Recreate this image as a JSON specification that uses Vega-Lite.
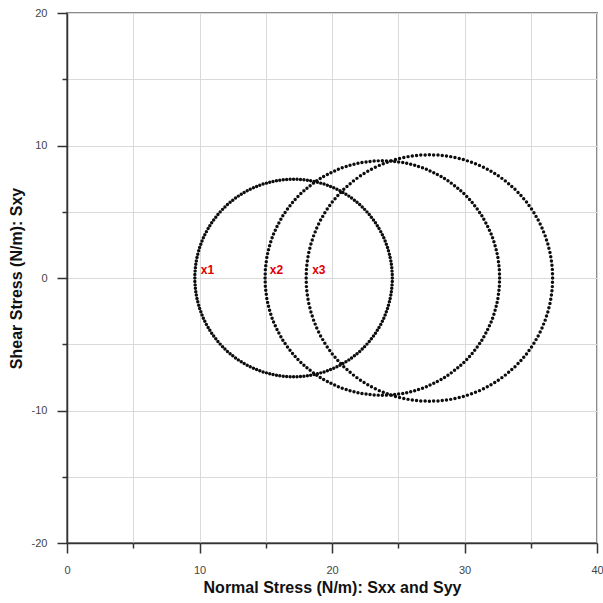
{
"$schema": "https://vega.github.io/schema/vega-lite/v6.json",
"width": 530,
"height": 530,
"autosize": "none",
"padding": {"left": 67, "top": 13, "right": 6, "bottom": 60},
"background": "white",
"config": {"view": {"stroke": "#8c8c8c", "strokeWidth": 2}, "font": "Liberation Sans"},
"datasets": {
"labels": [{"label":"x1","x":10.1,"y":0},{"label":"x2","x":15.3,"y":0},{"label":"x3","x":18.5,"y":0}],
"points": [
{"c":1,"x":24.55,"y":0},{"c":1,"x":24.55,"y":0.26},{"c":1,"x":24.53,"y":0.52},{"c":1,"x":24.51,"y":0.78},{"c":1,"x":24.48,"y":1.04},{"c":1,"x":24.44,"y":1.29},{"c":1,"x":24.39,"y":1.55},{"c":1,"x":24.33,"y":1.8},{"c":1,"x":24.26,"y":2.05},{"c":1,"x":24.19,"y":2.3},{"c":1,"x":24.1,"y":2.55},{"c":1,"x":24.01,"y":2.79},{"c":1,"x":23.91,"y":3.03},{"c":1,"x":23.8,"y":3.27},{"c":1,"x":23.68,"y":3.5},{"c":1,"x":23.55,"y":3.73},{"c":1,"x":23.42,"y":3.95},{"c":1,"x":23.28,"y":4.17},{"c":1,"x":23.13,"y":4.38},{"c":1,"x":22.97,"y":4.59},{"c":1,"x":22.81,"y":4.79},{"c":1,"x":22.64,"y":4.99},{"c":1,"x":22.46,"y":5.18},{"c":1,"x":22.28,"y":5.36},{"c":1,"x":22.09,"y":5.54},{"c":1,"x":21.89,"y":5.71},{"c":1,"x":21.69,"y":5.87},{"c":1,"x":21.48,"y":6.03},{"c":1,"x":21.27,"y":6.18},{"c":1,"x":21.05,"y":6.32},{"c":1,"x":20.83,"y":6.45},{"c":1,"x":20.6,"y":6.58},{"c":1,"x":20.37,"y":6.7},{"c":1,"x":20.13,"y":6.81},{"c":1,"x":19.89,"y":6.91},{"c":1,"x":19.65,"y":7.0},{"c":1,"x":19.4,"y":7.09},{"c":1,"x":19.15,"y":7.16},{"c":1,"x":18.9,"y":7.23},{"c":1,"x":18.65,"y":7.29},{"c":1,"x":18.39,"y":7.34},{"c":1,"x":18.14,"y":7.38},{"c":1,"x":17.88,"y":7.41},{"c":1,"x":17.62,"y":7.43},{"c":1,"x":17.36,"y":7.45},{"c":1,"x":17.1,"y":7.45},
{"c":1,"x":24.55,"y":-0.26},{"c":1,"x":24.53,"y":-0.52},{"c":1,"x":24.51,"y":-0.78},{"c":1,"x":24.48,"y":-1.04},{"c":1,"x":24.44,"y":-1.29},{"c":1,"x":24.39,"y":-1.55},{"c":1,"x":24.33,"y":-1.8},{"c":1,"x":24.26,"y":-2.05},{"c":1,"x":24.19,"y":-2.3},{"c":1,"x":24.1,"y":-2.55},{"c":1,"x":24.01,"y":-2.79},{"c":1,"x":23.91,"y":-3.03},{"c":1,"x":23.8,"y":-3.27},{"c":1,"x":23.68,"y":-3.5},{"c":1,"x":23.55,"y":-3.73},{"c":1,"x":23.42,"y":-3.95},{"c":1,"x":23.28,"y":-4.17},{"c":1,"x":23.13,"y":-4.38},{"c":1,"x":22.97,"y":-4.59},{"c":1,"x":22.81,"y":-4.79},{"c":1,"x":22.64,"y":-4.99},{"c":1,"x":22.46,"y":-5.18},{"c":1,"x":22.28,"y":-5.36},{"c":1,"x":22.09,"y":-5.54},{"c":1,"x":21.89,"y":-5.71},{"c":1,"x":21.69,"y":-5.87},{"c":1,"x":21.48,"y":-6.03},{"c":1,"x":21.27,"y":-6.18},{"c":1,"x":21.05,"y":-6.32},{"c":1,"x":20.83,"y":-6.45},{"c":1,"x":20.6,"y":-6.58},{"c":1,"x":20.37,"y":-6.7},{"c":1,"x":20.13,"y":-6.81},{"c":1,"x":19.89,"y":-6.91},{"c":1,"x":19.65,"y":-7.0},{"c":1,"x":19.4,"y":-7.09},{"c":1,"x":19.15,"y":-7.16},{"c":1,"x":18.9,"y":-7.23},{"c":1,"x":18.65,"y":-7.29},{"c":1,"x":18.39,"y":-7.34},{"c":1,"x":18.14,"y":-7.38},{"c":1,"x":17.88,"y":-7.41},{"c":1,"x":17.62,"y":-7.43},{"c":1,"x":17.36,"y":-7.45},{"c":1,"x":17.1,"y":-7.45},
{"c":1,"x":9.65,"y":0},{"c":1,"x":9.65,"y":0.26},{"c":1,"x":9.67,"y":0.52},{"c":1,"x":9.69,"y":0.78},{"c":1,"x":9.72,"y":1.04},{"c":1,"x":9.76,"y":1.29},{"c":1,"x":9.81,"y":1.55},{"c":1,"x":9.87,"y":1.8},{"c":1,"x":9.94,"y":2.05},{"c":1,"x":10.01,"y":2.3},{"c":1,"x":10.1,"y":2.55},{"c":1,"x":10.19,"y":2.79},{"c":1,"x":10.29,"y":3.03},{"c":1,"x":10.4,"y":3.27},{"c":1,"x":10.52,"y":3.5},{"c":1,"x":10.65,"y":3.73},{"c":1,"x":10.78,"y":3.95},{"c":1,"x":10.92,"y":4.17},{"c":1,"x":11.07,"y":4.38},{"c":1,"x":11.23,"y":4.59},{"c":1,"x":11.39,"y":4.79},{"c":1,"x":11.56,"y":4.99},{"c":1,"x":11.74,"y":5.18},{"c":1,"x":11.92,"y":5.36},{"c":1,"x":12.11,"y":5.54},{"c":1,"x":12.31,"y":5.71},{"c":1,"x":12.51,"y":5.87},{"c":1,"x":12.72,"y":6.03},{"c":1,"x":12.93,"y":6.18},{"c":1,"x":13.15,"y":6.32},{"c":1,"x":13.37,"y":6.45},{"c":1,"x":13.6,"y":6.58},{"c":1,"x":13.83,"y":6.7},{"c":1,"x":14.07,"y":6.81},{"c":1,"x":14.31,"y":6.91},{"c":1,"x":14.55,"y":7.0},{"c":1,"x":14.8,"y":7.09},{"c":1,"x":15.05,"y":7.16},{"c":1,"x":15.3,"y":7.23},{"c":1,"x":15.55,"y":7.29},{"c":1,"x":15.81,"y":7.34},{"c":1,"x":16.06,"y":7.38},{"c":1,"x":16.32,"y":7.41},{"c":1,"x":16.58,"y":7.43},{"c":1,"x":16.84,"y":7.45},
{"c":1,"x":9.65,"y":-0.26},{"c":1,"x":9.67,"y":-0.52},{"c":1,"x":9.69,"y":-0.78},{"c":1,"x":9.72,"y":-1.04},{"c":1,"x":9.76,"y":-1.29},{"c":1,"x":9.81,"y":-1.55},{"c":1,"x":9.87,"y":-1.8},{"c":1,"x":9.94,"y":-2.05},{"c":1,"x":10.01,"y":-2.3},{"c":1,"x":10.1,"y":-2.55},{"c":1,"x":10.19,"y":-2.79},{"c":1,"x":10.29,"y":-3.03},{"c":1,"x":10.4,"y":-3.27},{"c":1,"x":10.52,"y":-3.5},{"c":1,"x":10.65,"y":-3.73},{"c":1,"x":10.78,"y":-3.95},{"c":1,"x":10.92,"y":-4.17},{"c":1,"x":11.07,"y":-4.38},{"c":1,"x":11.23,"y":-4.59},{"c":1,"x":11.39,"y":-4.79},{"c":1,"x":11.56,"y":-4.99},{"c":1,"x":11.74,"y":-5.18},{"c":1,"x":11.92,"y":-5.36},{"c":1,"x":12.11,"y":-5.54},{"c":1,"x":12.31,"y":-5.71},{"c":1,"x":12.51,"y":-5.87},{"c":1,"x":12.72,"y":-6.03},{"c":1,"x":12.93,"y":-6.18},{"c":1,"x":13.15,"y":-6.32},{"c":1,"x":13.37,"y":-6.45},{"c":1,"x":13.6,"y":-6.58},{"c":1,"x":13.83,"y":-6.7},{"c":1,"x":14.07,"y":-6.81},{"c":1,"x":14.31,"y":-6.91},{"c":1,"x":14.55,"y":-7.0},{"c":1,"x":14.8,"y":-7.09},{"c":1,"x":15.05,"y":-7.16},{"c":1,"x":15.3,"y":-7.23},{"c":1,"x":15.55,"y":-7.29},{"c":1,"x":15.81,"y":-7.34},{"c":1,"x":16.06,"y":-7.38},{"c":1,"x":16.32,"y":-7.41},{"c":1,"x":16.58,"y":-7.43},{"c":1,"x":16.84,"y":-7.45},
{"c":2,"x":32.65,"y":0},{"c":2,"x":32.64,"y":0.31},{"c":2,"x":32.63,"y":0.62},{"c":2,"x":32.6,"y":0.93},{"c":2,"x":32.56,"y":1.23},{"c":2,"x":32.52,"y":1.54},{"c":2,"x":32.46,"y":1.84},{"c":2,"x":32.39,"y":2.14},{"c":2,"x":32.31,"y":2.44},{"c":2,"x":32.22,"y":2.73},{"c":2,"x":32.12,"y":3.03},{"c":2,"x":32.01,"y":3.32},{"c":2,"x":31.88,"y":3.6},{"c":2,"x":31.75,"y":3.88},{"c":2,"x":31.61,"y":4.15},{"c":2,"x":31.46,"y":4.43},{"c":2,"x":31.31,"y":4.69},{"c":2,"x":31.14,"y":4.95},{"c":2,"x":30.96,"y":5.2},{"c":2,"x":30.77,"y":5.45},{"c":2,"x":30.58,"y":5.69},{"c":2,"x":30.38,"y":5.92},{"c":2,"x":30.17,"y":6.15},{"c":2,"x":29.95,"y":6.37},{"c":2,"x":29.72,"y":6.58},{"c":2,"x":29.49,"y":6.78},{"c":2,"x":29.25,"y":6.97},{"c":2,"x":29.0,"y":7.16},{"c":2,"x":28.75,"y":7.34},{"c":2,"x":28.49,"y":7.51},{"c":2,"x":28.23,"y":7.66},{"c":2,"x":27.95,"y":7.81},{"c":2,"x":27.68,"y":7.95},{"c":2,"x":27.4,"y":8.08},{"c":2,"x":27.12,"y":8.21},{"c":2,"x":26.83,"y":8.32},{"c":2,"x":26.53,"y":8.42},{"c":2,"x":26.24,"y":8.51},{"c":2,"x":25.94,"y":8.59},{"c":2,"x":25.64,"y":8.66},{"c":2,"x":25.34,"y":8.72},{"c":2,"x":25.03,"y":8.76},{"c":2,"x":24.73,"y":8.8},{"c":2,"x":24.42,"y":8.83},{"c":2,"x":24.11,"y":8.84},{"c":2,"x":23.8,"y":8.85},
{"c":2,"x":32.64,"y":-0.31},{"c":2,"x":32.63,"y":-0.62},{"c":2,"x":32.6,"y":-0.93},{"c":2,"x":32.56,"y":-1.23},{"c":2,"x":32.52,"y":-1.54},{"c":2,"x":32.46,"y":-1.84},{"c":2,"x":32.39,"y":-2.14},{"c":2,"x":32.31,"y":-2.44},{"c":2,"x":32.22,"y":-2.73},{"c":2,"x":32.12,"y":-3.03},{"c":2,"x":32.01,"y":-3.32},{"c":2,"x":31.88,"y":-3.6},{"c":2,"x":31.75,"y":-3.88},{"c":2,"x":31.61,"y":-4.15},{"c":2,"x":31.46,"y":-4.43},{"c":2,"x":31.31,"y":-4.69},{"c":2,"x":31.14,"y":-4.95},{"c":2,"x":30.96,"y":-5.2},{"c":2,"x":30.77,"y":-5.45},{"c":2,"x":30.58,"y":-5.69},{"c":2,"x":30.38,"y":-5.92},{"c":2,"x":30.17,"y":-6.15},{"c":2,"x":29.95,"y":-6.37},{"c":2,"x":29.72,"y":-6.58},{"c":2,"x":29.49,"y":-6.78},{"c":2,"x":29.25,"y":-6.97},{"c":2,"x":29.0,"y":-7.16},{"c":2,"x":28.75,"y":-7.34},{"c":2,"x":28.49,"y":-7.51},{"c":2,"x":28.23,"y":-7.66},{"c":2,"x":27.95,"y":-7.81},{"c":2,"x":27.68,"y":-7.95},{"c":2,"x":27.4,"y":-8.08},{"c":2,"x":27.12,"y":-8.21},{"c":2,"x":26.83,"y":-8.32},{"c":2,"x":26.53,"y":-8.42},{"c":2,"x":26.24,"y":-8.51},{"c":2,"x":25.94,"y":-8.59},{"c":2,"x":25.64,"y":-8.66},{"c":2,"x":25.34,"y":-8.72},{"c":2,"x":25.03,"y":-8.76},{"c":2,"x":24.73,"y":-8.8},{"c":2,"x":24.42,"y":-8.83},{"c":2,"x":24.11,"y":-8.84},{"c":2,"x":23.8,"y":-8.85},
{"c":2,"x":14.95,"y":0},{"c":2,"x":14.96,"y":0.31},{"c":2,"x":14.97,"y":0.62},{"c":2,"x":15.0,"y":0.93},{"c":2,"x":15.04,"y":1.23},{"c":2,"x":15.08,"y":1.54},{"c":2,"x":15.14,"y":1.84},{"c":2,"x":15.21,"y":2.14},{"c":2,"x":15.29,"y":2.44},{"c":2,"x":15.38,"y":2.73},{"c":2,"x":15.48,"y":3.03},{"c":2,"x":15.59,"y":3.32},{"c":2,"x":15.72,"y":3.6},{"c":2,"x":15.85,"y":3.88},{"c":2,"x":15.99,"y":4.15},{"c":2,"x":16.14,"y":4.43},{"c":2,"x":16.29,"y":4.69},{"c":2,"x":16.46,"y":4.95},{"c":2,"x":16.64,"y":5.2},{"c":2,"x":16.83,"y":5.45},{"c":2,"x":17.02,"y":5.69},{"c":2,"x":17.22,"y":5.92},{"c":2,"x":17.43,"y":6.15},{"c":2,"x":17.65,"y":6.37},{"c":2,"x":17.88,"y":6.58},{"c":2,"x":18.11,"y":6.78},{"c":2,"x":18.35,"y":6.97},{"c":2,"x":18.6,"y":7.16},{"c":2,"x":18.85,"y":7.34},{"c":2,"x":19.11,"y":7.51},{"c":2,"x":19.37,"y":7.66},{"c":2,"x":19.65,"y":7.81},{"c":2,"x":19.92,"y":7.95},{"c":2,"x":20.2,"y":8.08},{"c":2,"x":20.48,"y":8.21},{"c":2,"x":20.77,"y":8.32},{"c":2,"x":21.07,"y":8.42},{"c":2,"x":21.36,"y":8.51},{"c":2,"x":21.66,"y":8.59},{"c":2,"x":21.96,"y":8.66},{"c":2,"x":22.26,"y":8.72},{"c":2,"x":22.57,"y":8.76},{"c":2,"x":22.87,"y":8.8},{"c":2,"x":23.18,"y":8.83},{"c":2,"x":23.49,"y":8.84},
{"c":2,"x":14.96,"y":-0.31},{"c":2,"x":14.97,"y":-0.62},{"c":2,"x":15.0,"y":-0.93},{"c":2,"x":15.04,"y":-1.23},{"c":2,"x":15.08,"y":-1.54},{"c":2,"x":15.14,"y":-1.84},{"c":2,"x":15.21,"y":-2.14},{"c":2,"x":15.29,"y":-2.44},{"c":2,"x":15.38,"y":-2.73},{"c":2,"x":15.48,"y":-3.03},{"c":2,"x":15.59,"y":-3.32},{"c":2,"x":15.72,"y":-3.6},{"c":2,"x":15.85,"y":-3.88},{"c":2,"x":15.99,"y":-4.15},{"c":2,"x":16.14,"y":-4.43},{"c":2,"x":16.29,"y":-4.69},{"c":2,"x":16.46,"y":-4.95},{"c":2,"x":16.64,"y":-5.2},{"c":2,"x":16.83,"y":-5.45},{"c":2,"x":17.02,"y":-5.69},{"c":2,"x":17.22,"y":-5.92},{"c":2,"x":17.43,"y":-6.15},{"c":2,"x":17.65,"y":-6.37},{"c":2,"x":17.88,"y":-6.58},{"c":2,"x":18.11,"y":-6.78},{"c":2,"x":18.35,"y":-6.97},{"c":2,"x":18.6,"y":-7.16},{"c":2,"x":18.85,"y":-7.34},{"c":2,"x":19.11,"y":-7.51},{"c":2,"x":19.37,"y":-7.66},{"c":2,"x":19.65,"y":-7.81},{"c":2,"x":19.92,"y":-7.95},{"c":2,"x":20.2,"y":-8.08},{"c":2,"x":20.48,"y":-8.21},{"c":2,"x":20.77,"y":-8.32},{"c":2,"x":21.07,"y":-8.42},{"c":2,"x":21.36,"y":-8.51},{"c":2,"x":21.66,"y":-8.59},{"c":2,"x":21.96,"y":-8.66},{"c":2,"x":22.26,"y":-8.72},{"c":2,"x":22.57,"y":-8.76},{"c":2,"x":22.87,"y":-8.8},{"c":2,"x":23.18,"y":-8.83},{"c":2,"x":23.49,"y":-8.84},
{"c":3,"x":36.65,"y":0},{"c":3,"x":36.64,"y":0.32},{"c":3,"x":36.63,"y":0.65},{"c":3,"x":36.6,"y":0.97},{"c":3,"x":36.56,"y":1.29},{"c":3,"x":36.51,"y":1.61},{"c":3,"x":36.45,"y":1.93},{"c":3,"x":36.37,"y":2.25},{"c":3,"x":36.29,"y":2.56},{"c":3,"x":36.19,"y":2.87},{"c":3,"x":36.09,"y":3.18},{"c":3,"x":35.97,"y":3.48},{"c":3,"x":35.85,"y":3.78},{"c":3,"x":35.71,"y":4.08},{"c":3,"x":35.56,"y":4.37},{"c":3,"x":35.4,"y":4.65},{"c":3,"x":35.24,"y":4.93},{"c":3,"x":35.06,"y":5.2},{"c":3,"x":34.87,"y":5.47},{"c":3,"x":34.68,"y":5.73},{"c":3,"x":34.47,"y":5.98},{"c":3,"x":34.26,"y":6.22},{"c":3,"x":34.04,"y":6.46},{"c":3,"x":33.81,"y":6.69},{"c":3,"x":33.57,"y":6.91},{"c":3,"x":33.33,"y":7.12},{"c":3,"x":33.08,"y":7.33},{"c":3,"x":32.82,"y":7.52},{"c":3,"x":32.55,"y":7.71},{"c":3,"x":32.28,"y":7.89},{"c":3,"x":32.0,"y":8.05},{"c":3,"x":31.72,"y":8.21},{"c":3,"x":31.43,"y":8.36},{"c":3,"x":31.13,"y":8.5},{"c":3,"x":30.83,"y":8.62},{"c":3,"x":30.53,"y":8.74},{"c":3,"x":30.22,"y":8.84},{"c":3,"x":29.91,"y":8.94},{"c":3,"x":29.6,"y":9.02},{"c":3,"x":29.28,"y":9.1},{"c":3,"x":28.96,"y":9.16},{"c":3,"x":28.64,"y":9.21},{"c":3,"x":28.32,"y":9.25},{"c":3,"x":28.0,"y":9.28},{"c":3,"x":27.67,"y":9.29},{"c":3,"x":27.35,"y":9.3},
{"c":3,"x":36.64,"y":-0.32},{"c":3,"x":36.63,"y":-0.65},{"c":3,"x":36.6,"y":-0.97},{"c":3,"x":36.56,"y":-1.29},{"c":3,"x":36.51,"y":-1.61},{"c":3,"x":36.45,"y":-1.93},{"c":3,"x":36.37,"y":-2.25},{"c":3,"x":36.29,"y":-2.56},{"c":3,"x":36.19,"y":-2.87},{"c":3,"x":36.09,"y":-3.18},{"c":3,"x":35.97,"y":-3.48},{"c":3,"x":35.85,"y":-3.78},{"c":3,"x":35.71,"y":-4.08},{"c":3,"x":35.56,"y":-4.37},{"c":3,"x":35.4,"y":-4.65},{"c":3,"x":35.24,"y":-4.93},{"c":3,"x":35.06,"y":-5.2},{"c":3,"x":34.87,"y":-5.47},{"c":3,"x":34.68,"y":-5.73},{"c":3,"x":34.47,"y":-5.98},{"c":3,"x":34.26,"y":-6.22},{"c":3,"x":34.04,"y":-6.46},{"c":3,"x":33.81,"y":-6.69},{"c":3,"x":33.57,"y":-6.91},{"c":3,"x":33.33,"y":-7.12},{"c":3,"x":33.08,"y":-7.33},{"c":3,"x":32.82,"y":-7.52},{"c":3,"x":32.55,"y":-7.71},{"c":3,"x":32.28,"y":-7.89},{"c":3,"x":32.0,"y":-8.05},{"c":3,"x":31.72,"y":-8.21},{"c":3,"x":31.43,"y":-8.36},{"c":3,"x":31.13,"y":-8.5},{"c":3,"x":30.83,"y":-8.62},{"c":3,"x":30.53,"y":-8.74},{"c":3,"x":30.22,"y":-8.84},{"c":3,"x":29.91,"y":-8.94},{"c":3,"x":29.6,"y":-9.02},{"c":3,"x":29.28,"y":-9.1},{"c":3,"x":28.96,"y":-9.16},{"c":3,"x":28.64,"y":-9.21},{"c":3,"x":28.32,"y":-9.25},{"c":3,"x":28.0,"y":-9.28},{"c":3,"x":27.67,"y":-9.29},{"c":3,"x":27.35,"y":-9.3},
{"c":3,"x":18.05,"y":0},{"c":3,"x":18.06,"y":0.32},{"c":3,"x":18.07,"y":0.65},{"c":3,"x":18.1,"y":0.97},{"c":3,"x":18.14,"y":1.29},{"c":3,"x":18.19,"y":1.61},{"c":3,"x":18.25,"y":1.93},{"c":3,"x":18.33,"y":2.25},{"c":3,"x":18.41,"y":2.56},{"c":3,"x":18.51,"y":2.87},{"c":3,"x":18.61,"y":3.18},{"c":3,"x":18.73,"y":3.48},{"c":3,"x":18.85,"y":3.78},{"c":3,"x":18.99,"y":4.08},{"c":3,"x":19.14,"y":4.37},{"c":3,"x":19.3,"y":4.65},{"c":3,"x":19.46,"y":4.93},{"c":3,"x":19.64,"y":5.2},{"c":3,"x":19.83,"y":5.47},{"c":3,"x":20.02,"y":5.73},{"c":3,"x":20.23,"y":5.98},{"c":3,"x":20.44,"y":6.22},{"c":3,"x":20.66,"y":6.46},{"c":3,"x":20.89,"y":6.69},{"c":3,"x":21.13,"y":6.91},{"c":3,"x":21.37,"y":7.12},{"c":3,"x":21.62,"y":7.33},{"c":3,"x":21.88,"y":7.52},{"c":3,"x":22.15,"y":7.71},{"c":3,"x":22.42,"y":7.89},{"c":3,"x":22.7,"y":8.05},{"c":3,"x":22.98,"y":8.21},{"c":3,"x":23.27,"y":8.36},{"c":3,"x":23.57,"y":8.5},{"c":3,"x":23.87,"y":8.62},{"c":3,"x":24.17,"y":8.74},{"c":3,"x":24.48,"y":8.84},{"c":3,"x":24.79,"y":8.94},{"c":3,"x":25.1,"y":9.02},{"c":3,"x":25.42,"y":9.1},{"c":3,"x":25.74,"y":9.16},{"c":3,"x":26.06,"y":9.21},{"c":3,"x":26.38,"y":9.25},{"c":3,"x":26.7,"y":9.28},{"c":3,"x":27.03,"y":9.29},
{"c":3,"x":18.06,"y":-0.32},{"c":3,"x":18.07,"y":-0.65},{"c":3,"x":18.1,"y":-0.97},{"c":3,"x":18.14,"y":-1.29},{"c":3,"x":18.19,"y":-1.61},{"c":3,"x":18.25,"y":-1.93},{"c":3,"x":18.33,"y":-2.25},{"c":3,"x":18.41,"y":-2.56},{"c":3,"x":18.51,"y":-2.87},{"c":3,"x":18.61,"y":-3.18},{"c":3,"x":18.73,"y":-3.48},{"c":3,"x":18.85,"y":-3.78},{"c":3,"x":18.99,"y":-4.08},{"c":3,"x":19.14,"y":-4.37},{"c":3,"x":19.3,"y":-4.65},{"c":3,"x":19.46,"y":-4.93},{"c":3,"x":19.64,"y":-5.2},{"c":3,"x":19.83,"y":-5.47},{"c":3,"x":20.02,"y":-5.73},{"c":3,"x":20.23,"y":-5.98},{"c":3,"x":20.44,"y":-6.22},{"c":3,"x":20.66,"y":-6.46},{"c":3,"x":20.89,"y":-6.69},{"c":3,"x":21.13,"y":-6.91},{"c":3,"x":21.37,"y":-7.12},{"c":3,"x":21.62,"y":-7.33},{"c":3,"x":21.88,"y":-7.52},{"c":3,"x":22.15,"y":-7.71},{"c":3,"x":22.42,"y":-7.89},{"c":3,"x":22.7,"y":-8.05},{"c":3,"x":22.98,"y":-8.21},{"c":3,"x":23.27,"y":-8.36},{"c":3,"x":23.57,"y":-8.5},{"c":3,"x":23.87,"y":-8.62},{"c":3,"x":24.17,"y":-8.74},{"c":3,"x":24.48,"y":-8.84},{"c":3,"x":24.79,"y":-8.94},{"c":3,"x":25.1,"y":-9.02},{"c":3,"x":25.42,"y":-9.1},{"c":3,"x":25.74,"y":-9.16},{"c":3,"x":26.06,"y":-9.21},{"c":3,"x":26.38,"y":-9.25},{"c":3,"x":26.7,"y":-9.28},{"c":3,"x":27.03,"y":-9.29}
]
},
"layer": [
{
"data": {"name": "points"},
"mark": {"type": "circle", "size": 12, "color": "#0d0d0d", "opacity": 1},
"encoding": {
"x": {"field": "x", "type": "quantitative", "scale": {"domain": [0, 40], "nice": false},
"axis": {"title": "Normal Stress (N/m): Sxx and Syy", "values": [0,5,10,15,20,25,30,35,40], "labelExpr": "datum.value % 10 === 0 ? toString(datum.value) : ''", "grid": true, "gridColor": "#d9d9d9", "gridWidth": 1, "domainColor": "#333333", "domainWidth": 1.5, "tickColor": "#333333", "tickWidth": 1.5, "tickSize": {"condition": {"test": "datum.value % 10 === 0", "value": 10}, "value": 5}, "labelFont": "Liberation Sans", "labelFontSize": 11, "labelColor": "#444444", "labelPadding": 11, "labelFlush": false, "labelOverlap": false, "titleFont": "Liberation Sans", "titleFontSize": 16, "titleFontWeight": "bold", "titleColor": "#111111", "titleY": 49, "titleBaseline": "alphabetic"}},
"y": {"field": "y", "type": "quantitative", "scale": {"domain": [-20, 20], "nice": false},
"axis": {"title": "Shear Stress (N/m): Sxy", "values": [-20,-15,-10,-5,0,5,10,15,20], "labelExpr": "datum.value % 10 === 0 ? toString(datum.value) : ''", "grid": true, "gridColor": "#d9d9d9", "gridWidth": 1, "domainColor": "#333333", "domainWidth": 1.5, "tickColor": "#333333", "tickWidth": 1.5, "tickSize": {"condition": {"test": "datum.value % 10 === 0", "value": 10}, "value": 5}, "labelFont": "Liberation Sans", "labelFontSize": 11, "labelColor": "#444444", "labelPadding": 10, "labelFlush": false, "labelOverlap": false, "titleFont": "Liberation Sans", "titleFontSize": 16, "titleFontWeight": "bold", "titleColor": "#111111", "titleX": -46, "titleBaseline": "alphabetic"}}
}
},
{
"data": {"name": "labels"},
"mark": {"type": "text", "align": "left", "baseline": "alphabetic", "dy": -4, "color": "#e00000", "fontWeight": "bold", "fontSize": 12, "font": "Liberation Sans"},
"encoding": {
"x": {"field": "x", "type": "quantitative"},
"y": {"field": "y", "type": "quantitative"},
"text": {"field": "label"}
}
}
]
}
